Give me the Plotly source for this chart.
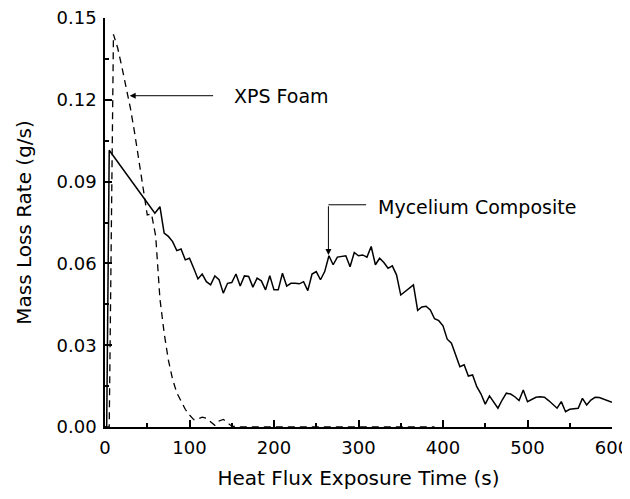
import plotly.graph_objects as go

# Mycelium composite (solid)
myc_t = [0, 2, 5, 59, 65, 70, 75, 80, 85, 90, 95, 100, 105, 110, 115, 120, 125, 130, 135, 140,
         145, 150, 155, 160, 165, 170, 175, 180, 185, 190, 195, 200, 205, 210, 215, 220, 225,
         230, 235, 240, 245, 250, 255, 260, 265, 270, 275, 280, 285, 290, 295, 300, 305, 310,
         315, 320, 325, 330, 335, 340, 345, 350, 355, 360, 365, 370, 375, 380, 385, 390, 395,
         400, 405, 410, 415, 420, 425, 430, 435, 440, 445, 450, 455, 460, 465, 470, 475, 480,
         485, 490, 495, 500, 505, 510, 515, 520, 525, 535, 540, 545, 550, 555, 560, 565, 570,
         575, 580, 585, 590, 600]
myc_mlr = [0.0, 0.0, 0.1015, 0.0784, 0.0808, 0.0711, 0.0699, 0.0680, 0.0647, 0.0653, 0.0613,
           0.0619, 0.0582, 0.0543, 0.0561, 0.0533, 0.0521, 0.0554, 0.0540, 0.0491, 0.0527,
           0.0530, 0.0561, 0.0517, 0.0554, 0.0552, 0.0513, 0.0546, 0.0536, 0.0503, 0.0555,
           0.0503, 0.0503, 0.0564, 0.0517, 0.0527, 0.0527, 0.0525, 0.0533, 0.0500, 0.0561,
           0.0570, 0.0540, 0.0570, 0.0628, 0.0595, 0.0623, 0.0625, 0.0628, 0.0588, 0.0640,
           0.0628, 0.0631, 0.0623, 0.0662, 0.0595, 0.0619, 0.0603, 0.0582, 0.0591, 0.0558,
           0.0484, 0.0497, 0.0509, 0.0521, 0.0428, 0.0440, 0.0443, 0.0429, 0.0397, 0.0390,
           0.0371, 0.0322, 0.0307, 0.0264, 0.0221, 0.0228, 0.0187, 0.0191, 0.0148, 0.0121,
           0.0084, 0.0114, 0.0093, 0.0069, 0.0099, 0.0124, 0.0121, 0.0111, 0.0097, 0.0136,
           0.0093, 0.0102, 0.0109, 0.0111, 0.0109, 0.0097, 0.0069, 0.0093, 0.0056, 0.0065,
           0.0066, 0.0069, 0.0105, 0.0081, 0.0099, 0.0109, 0.0108, 0.0102, 0.0091]

# XPS foam (dashed)
xps_t = [0, 5, 10, 15, 20, 25, 30, 35, 40, 45, 50, 55, 60, 65, 70, 75, 80, 85, 90, 95, 100,
         105, 110, 115, 120, 125, 130, 135, 140, 145, 150, 160, 170, 180, 190, 200, 210, 220,
         230, 240, 250, 260, 270, 280, 290, 300, 310, 320, 330, 340, 350, 360, 370, 380, 390]
xps_mlr = [0.0, 0.0, 0.1440, 0.1390, 0.1320, 0.1250, 0.1170, 0.1080, 0.0980, 0.0880, 0.0778,
           0.0782, 0.0700, 0.0470, 0.0345, 0.0245, 0.0175, 0.0125, 0.0092, 0.0065, 0.0044,
           0.0027, 0.0030, 0.0036, 0.0032, 0.0018, 0.0006, 0.0022, 0.0028, 0.0015, 0.0003,
           0.0, 0.0, 0.0, 0.0, 0.0, 0.0, 0.0, 0.0, 0.0, 0.0, 0.0, 0.0, 0.0, 0.0, 0.0, 0.0,
           0.0, 0.0, 0.0, 0.0, 0.0, 0.0, 0.0, 0.0]

x_ticks = [0, 100, 200, 300, 400, 500, 600]
y_ticks = [0.00, 0.03, 0.06, 0.09, 0.12, 0.15]

FONT = "DejaVu Sans"

fig = go.Figure()
fig.add_trace(go.Scatter(x=xps_t, y=xps_mlr, mode="lines",
                         line=dict(color="black", width=1.3, dash="7px,5px"),
                         showlegend=False))
fig.add_trace(go.Scatter(x=myc_t, y=myc_mlr, mode="lines",
                         line=dict(color="black", width=1.5),
                         showlegend=False))

# Arrows
fig.add_annotation(x=29.2, y=0.1215, ax=129.7, ay=0.1215, axref="x", ayref="y",
                   xref="x", yref="y", text="", showarrow=True,
                   arrowhead=2, arrowsize=1.2, arrowwidth=1, arrowcolor="black")
fig.add_annotation(x=149.8, y=0.1215, xref="x", yref="y", text="XPS Foam",
                   showarrow=False, xanchor="left", yanchor="middle",
                   font=dict(family=FONT, size=19, color="black"))

fig.add_annotation(x=264.4, y=0.0631, ax=264.4, ay=0.0815, axref="x", ayref="y",
                   xref="x", yref="y", text="", showarrow=True,
                   arrowhead=2, arrowsize=1.2, arrowwidth=1, arrowcolor="black")
fig.add_shape(type="line", x0=264.4, y0=0.0815, x1=309, y1=0.0815,
              xref="x", yref="y", line=dict(color="black", width=1))
fig.add_annotation(x=320.5, y=0.0807, xref="x", yref="y", text="Mycelium Composite",
                   showarrow=False, xanchor="left", yanchor="middle",
                   font=dict(family=FONT, size=19, color="black"))

fig.update_layout(
    width=622, height=483,
    margin=dict(l=97, r=18, t=10, b=64, autoexpand=False),
    paper_bgcolor="white", plot_bgcolor="white",
    font=dict(family=FONT, size=18, color="black"),
)
fig.update_xaxes(range=[0, 600], tickvals=x_ticks, ticks="inside", ticklen=7,
                 tickwidth=1.5, tickcolor="black", showline=True, linewidth=1.5,
                 linecolor="black", showgrid=False, zeroline=False, automargin=False,
                 tickfont=dict(size=18), ticklabelstandoff=4, ticklabeloverflow="allow",
                 minor=dict(dtick=50, ticks="inside", ticklen=4, tickwidth=1.5,
                            tickcolor="black", showgrid=False),
                 title=dict(text="Heat Flux Exposure Time (s)", font=dict(size=20),
                            standoff=14))
fig.update_yaxes(range=[0, 0.15], tickvals=y_ticks, tickformat=".2f", ticks="inside",
                 ticklen=7, tickwidth=1.5, tickcolor="black", showline=True,
                 linewidth=1.5, linecolor="black", showgrid=False, zeroline=False,
                 automargin=False, tickfont=dict(size=18), ticklabelstandoff=3,
                 ticklabeloverflow="allow",
                 minor=dict(dtick=0.015, ticks="inside", ticklen=4, tickwidth=1.5,
                            tickcolor="black", showgrid=False),
                 title=dict(text="Mass Loss Rate (g/s)", font=dict(size=20),
                            standoff=20))

fig.write_html("out.html")
